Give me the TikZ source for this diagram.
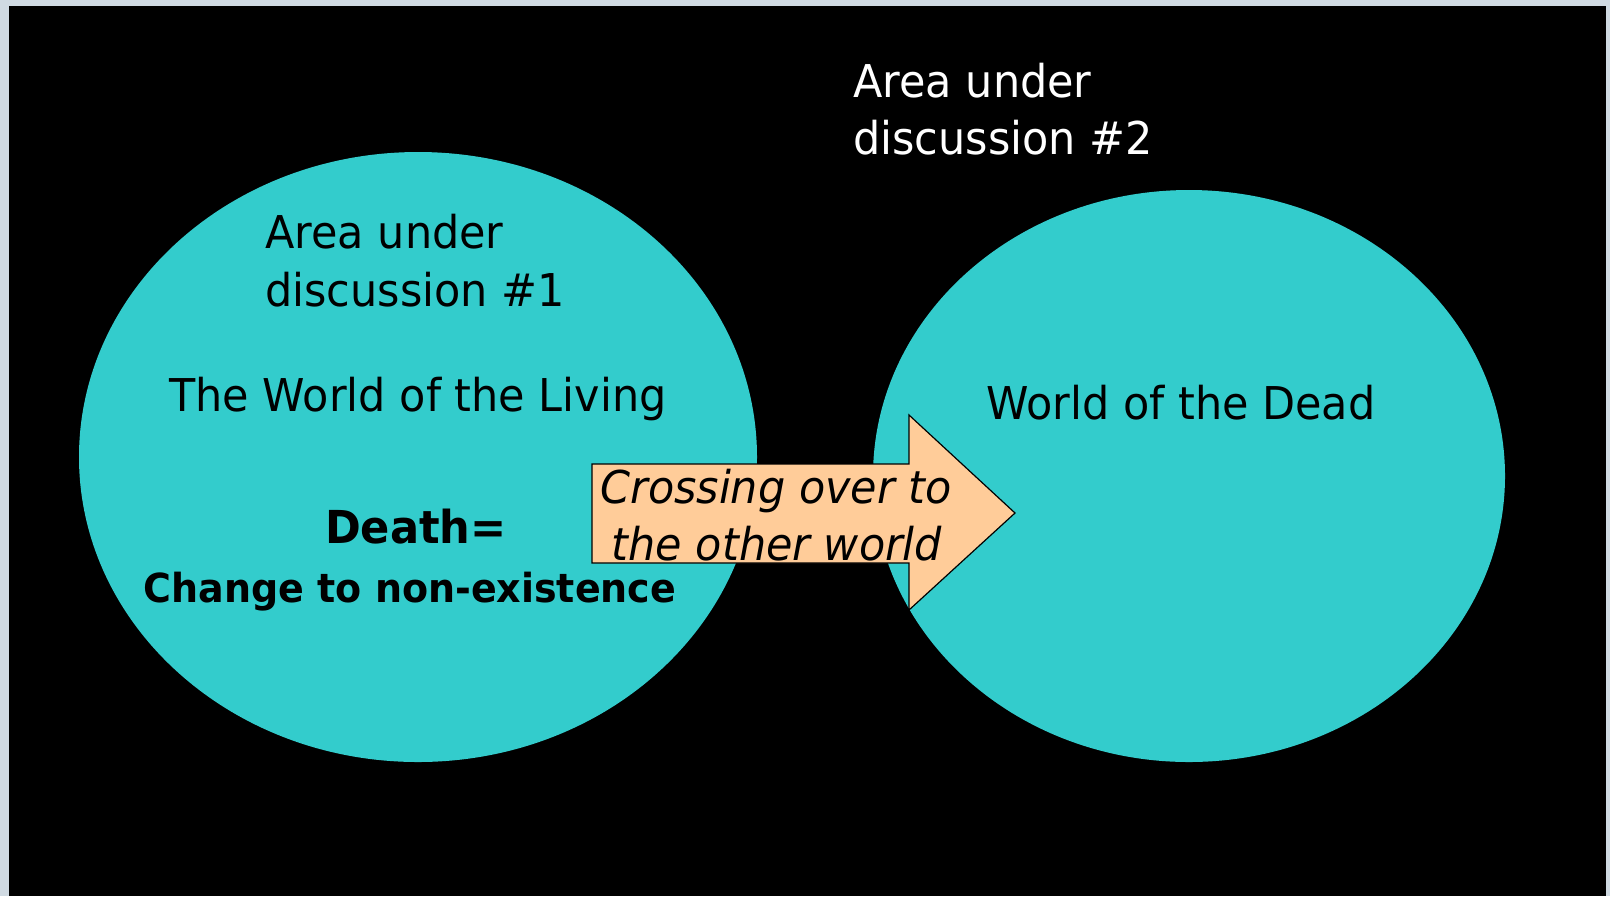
\documentclass[tikz,border=0pt]{standalone}
\usepackage{fontspec}
\setmainfont{DejaVu Sans}[FakeStretch=0.95]
\usetikzlibrary{positioning, shapes.geometric}

\definecolor{worldcyan}{RGB}{51,204,204}
\definecolor{crosspeach}{RGB}{255,204,153}
\definecolor{framegrey}{RGB}{208,218,226}

\begin{document}
\begin{tikzpicture}[
    x=0.5pt, y=-0.5pt,
    world/.style={ellipse, fill=worldcyan, inner sep=0pt},
    label/.style={inner sep=0pt, font=\fontsize{22.6}{28.5}\selectfont},
    bigbold/.style={inner sep=0pt, font=\fontsize{22.6}{28.5}\selectfont\bfseries},
    crossing/.style={inner sep=0pt, font=\fontsize{22.6}{28.5}\selectfont\itshape},
]

% Frame and slide background
\fill[framegrey] (0,0) rectangle (1610,896);
\fill[black] (9,6) rectangle (1606,896);
\useasboundingbox (0,0) rectangle (1610,896);

% The two worlds
\node[world, minimum width=339pt, minimum height=305pt] (living) at (418,457) {};
\node[world, minimum width=316pt, minimum height=286pt] (dead) at (1189,476) {};

% Crossing arrow
\coordinate (a1) at (592,464);
\coordinate (a2) at (909,464);
\coordinate (a3) at (909,415);
\coordinate (tip) at (1015,513);
\coordinate (a5) at (909,610);
\coordinate (a6) at (909,563);
\coordinate (a7) at (592,563);
\draw[fill=crosspeach, line width=0.6pt, line join=miter]
    (a1) -- (a2) -- (a3) -- (tip) -- (a5) -- (a6) -- (a7) -- cycle;

% Labels
\node[label, text=white, anchor=base west] (area2a) at (853,97) {Area under};
\node[label, text=white, anchor=base west] (area2b) at (853,154) {discussion \#2};
\node[label, anchor=base west] (area1a) at (265,248) {Area under};
\node[label, anchor=base west] (area1b) at (265,306) {discussion \#1};
\node[label, anchor=base] (livingname) at (418,411) {The World of the Living};
\node[label, anchor=base] (deadname) at (1181,419) {World of the Dead};
\node[bigbold, anchor=base, font=\fontsize{22.7}{28.5}\selectfont\bfseries] (death) at (416,543) {Death=};
\node[bigbold, anchor=base, font=\fontsize{20}{24}\selectfont\bfseries] (change) at (410,602) {Change to non-existence};
\node[crossing, anchor=base] (cross1) at (776,503) {Crossing over to};
\node[crossing, anchor=base] (cross2) at (777,560) {the other world};

\end{tikzpicture}
\end{document}
